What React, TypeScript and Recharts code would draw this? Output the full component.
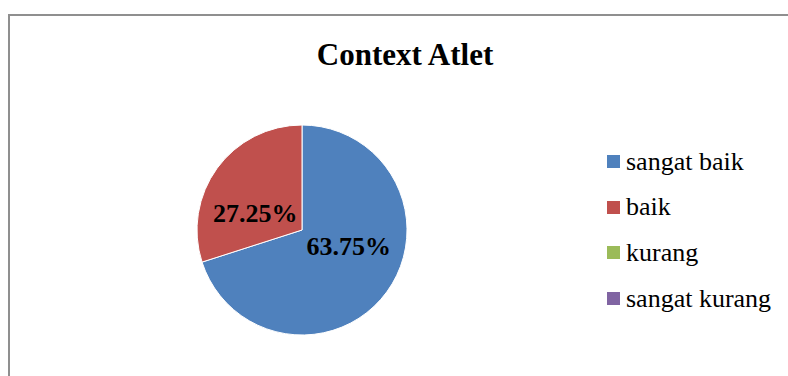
import React from 'react';
import { PieChart, Pie, Cell, Legend } from 'recharts';

const categories = ['sangat baik', 'baik', 'kurang', 'sangat kurang'];
const percentages = [63.75, 27.25, 0, 0];
const colors = ['#4F81BD', '#C0504D', '#9BBB59', '#8064A2'];
const chartTitle = 'Context Atlet';

const data = categories.map((name, i) => ({ name, value: percentages[i] }));

const serif = '"Liberation Serif", "Times New Roman", serif';

const RADIAN = Math.PI / 180;

// Excel "best fit" labels sit a bit flatter than the slice bisector
const renderLabel = (props: any) => {
  const { cx, cy, midAngle, outerRadius, value } = props;
  if (!value) return null;
  const x = cx + outerRadius * 0.55 * Math.cos(-midAngle * RADIAN);
  const y = cy + outerRadius * 0.27 * Math.sin(-midAngle * RADIAN);
  return (
    <text
      x={x}
      y={y}
      textAnchor="middle"
      dominantBaseline="central"
      fill="#000"
      style={{ fontFamily: serif, fontSize: 26, fontWeight: 700 }}
    >
      {`${value.toFixed(2)}%`}
    </text>
  );
};

const renderLegend = (props: any) => {
  const payload = [...(props.payload || [])].sort(
    (a: any, b: any) => categories.indexOf(a.value) - categories.indexOf(b.value)
  );
  return (
    <div style={{ fontFamily: serif, fontSize: 26, color: '#000' }}>
      {payload.map((entry: any) => (
        <div
          key={entry.value}
          style={{ display: 'flex', alignItems: 'center', height: 45.6 }}
        >
          <span
            style={{
              display: 'inline-block',
              width: 13,
              height: 13,
              background: entry.color,
              marginRight: 6,
            }}
          />
          <span>{entry.value}</span>
        </div>
      ))}
    </div>
  );
};

export default function App() {
  return (
    <div
      style={{
        position: 'fixed',
        left: 0,
        top: 0,
        width: 788,
        height: 376,
        overflow: 'hidden',
        background: '#fff',
      }}
    >
      <div
        style={{
          position: 'absolute',
          left: 8,
          top: 14,
          width: 820,
          height: 400,
          border: '2px solid #8f8f8f',
        }}
      />
      <div
        style={{
          position: 'absolute',
          left: 0,
          top: 39,
          width: 810,
          textAlign: 'center',
          fontFamily: serif,
          fontSize: 31,
          fontWeight: 700,
          lineHeight: 1,
          color: '#000',
        }}
      >
        {chartTitle}
      </div>
      <div style={{ position: 'absolute', left: 0, top: 0 }}>
        <PieChart
          width={788}
          height={376}
          margin={{ top: 0, right: 0, bottom: 0, left: 0 }}
        >
          <Pie
            data={data}
            dataKey="value"
            nameKey="name"
            cx={302}
            cy={230}
            outerRadius={105}
            startAngle={90}
            endAngle={-270}
            stroke="#fff"
            strokeWidth={1}
            label={renderLabel}
            labelLine={false}
            isAnimationActive={false}
          >
            {data.map((entry, i) => (
              <Cell key={entry.name} fill={colors[i]} />
            ))}
          </Pie>
          <Legend
            layout="vertical"
            align="right"
            verticalAlign="top"
            content={renderLegend}
            wrapperStyle={{ left: 607, top: 139, width: 180 }}
          />
        </PieChart>
      </div>
    </div>
  );
}
